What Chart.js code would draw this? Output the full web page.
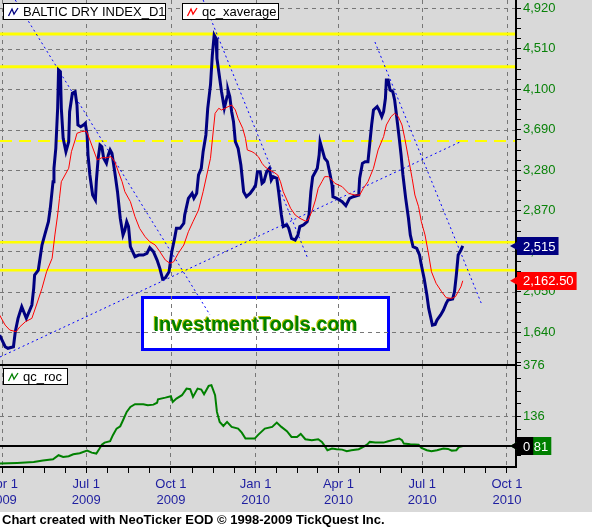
<!DOCTYPE html>
<html><head><meta charset="utf-8">
<script src="https://cdn.jsdelivr.net/npm/chart.js@4.4.1/dist/chart.umd.min.js"></script>
<style>
html,body{margin:0;padding:0;background:#fff;}
#wrap{position:relative;width:592px;height:528px;background:#fff;overflow:hidden}
#panel{position:absolute;left:0;top:0;width:592px;height:512px;background:#D9D9D9}
#c1{position:absolute;left:0;top:0}
#c2{position:absolute;left:0;top:355px}
#foot{position:absolute;left:2px;top:512px;font:bold 13px "Liberation Sans",Arial,sans-serif;color:#000;line-height:16px;white-space:nowrap}
</style></head><body>
<div id="wrap"><div id="panel"></div>
<canvas id="c1" width="592" height="365"></canvas>
<canvas id="c2" width="592" height="157"></canvas>
<div id="foot">Chart created with NeoTicker EOD © 1998-2009 TickQuest Inc.</div>
</div>
<script>
// x values are days counted from 2009-04-01
const quarterDays = [0, 91, 183, 275, 365, 456, 548];
const quarterLabels = [['Apr 1','2009'],['Jul 1','2009'],['Oct 1','2009'],['Jan 1','2010'],['Apr 1','2010'],['Jul 1','2010'],['Oct 1','2010']];
const priceTickLabels = [1640, 2050, 2460, 2870, 3280, 3690, 4100, 4510, 4920];
const rocTickLabels = [136, 376];

const bdiDays = [-3,3,6,12,14,17,21,26,32,34,35,39,43,46,50,52,55,56,58,60,61,63,64,66,69,72,73,76,79,81,82,85,88,90,92,93,95,98,101,102,104,106,108,110,113,115,117,119,122,125,128,131,133,135,137,139,144,148,153,157,160,164,168,171,174,177,180,181,184,187,189,193,197,198,202,206,208,211,213,216,218,221,223,226,228,230,232,233,235,238,241,244,245,247,249,251,253,256,259,262,265,269,273,275,277,280,282,284,287,290,292,294,298,300,303,305,309,311,314,318,321,323,327,331,333,335,337,340,342,344,345,347,350,353,356,358,359,363,369,373,377,381,387,388,391,394,397,399,401,403,407,409,412,414,416,417,419,421,424,426,428,431,433,435,438,441,443,446,450,453,455,458,461,463,465,467,470,472,476,479,482,484,489,491,493,495,498,500];
const bdiClose = [1613,1495,1479,1495,1647,1782,1900,1782,1917,2086,2221,2271,2524,2626,2760,2896,3165,3301,3503,3908,4296,4278,3908,3604,3469,3570,3873,4060,4076,3941,3739,3722,3739,3756,3638,3435,3233,3030,2980,3165,3402,3536,3519,3402,3351,3435,3486,3452,3266,3064,2795,2626,2676,2760,2710,2507,2406,2423,2423,2440,2497,2457,2372,2288,2180,2193,2238,2254,2457,2592,2693,2693,2744,2828,2997,3047,2997,3047,3233,3301,3469,3638,3908,4144,4447,4650,4616,4414,4278,4076,3908,4025,4093,4025,3873,3772,3570,3503,3334,3064,3013,3047,3098,3132,3266,3266,3149,3165,3266,3301,3182,3216,3199,3064,2828,2710,2727,2693,2592,2575,2626,2710,2727,2760,2828,3064,3216,3266,3301,3435,3570,3503,3402,3368,3233,3132,3013,2997,2963,2922,2997,3013,3030,3199,3351,3368,3368,3554,3739,3891,3924,3891,3823,3873,4009,4194,4194,4093,4076,3992,3840,3604,3435,3233,2997,2795,2626,2507,2490,2423,2322,2187,2018,1883,1799,1714,1721,1765,1816,1866,1934,1968,1978,2052,2221,2423,2474,2515];

const avgDays = [-3,3,8,15,19,25,32,37,43,48,54,57,60,62,64,68,72,75,79,81,86,91,93,97,101,103,108,113,118,122,126,130,133,139,144,149,155,160,166,171,177,182,186,191,197,202,207,213,218,222,226,228,231,235,238,242,245,249,253,256,261,264,266,271,274,278,282,285,290,294,299,302,305,309,313,318,323,329,332,336,340,343,347,350,354,358,361,369,376,383,388,392,397,403,408,414,417,422,426,430,434,437,441,445,448,452,455,459,463,466,471,477,482,488,492,495,498,500];
const avgValues = [1815,1714,1664,1647,1697,1748,1782,1917,2086,2254,2390,2626,2828,2997,3165,3233,3301,3469,3587,3655,3672,3678,3638,3536,3435,3385,3408,3408,3418,3368,3266,3165,3064,2963,2811,2693,2608,2558,2524,2457,2372,2339,2355,2440,2524,2659,2760,2878,3064,3233,3402,3587,3857,3908,3891,3908,3924,3941,3891,3806,3705,3604,3486,3469,3452,3418,3351,3317,3283,3266,3233,3165,3064,2980,2896,2828,2795,2767,2778,2862,2980,3098,3165,3216,3216,3182,3149,3115,3047,3030,3030,3098,3165,3301,3486,3621,3739,3823,3857,3823,3739,3604,3402,3199,3030,2912,2760,2626,2423,2254,2137,2052,1991,1984,2001,2052,2102,2162.5];

const rocDays = [-3,16,34,44,55,61,66,72,77,84,92,97,102,105,108,111,117,120,124,128,131,135,139,144,153,158,164,168,169,177,183,185,189,195,200,204,207,212,216,219,224,227,231,233,236,240,244,249,256,260,264,274,278,285,293,298,303,309,314,320,324,329,336,343,347,350,353,358,363,369,374,379,387,392,396,399,405,414,419,426,431,434,436,443,452,455,461,466,472,479,484,488,493,496,500];
const rocValues = [-80.6,-77.5,-72.9,-66.7,-60.5,-41.9,-49.7,-46.6,-37.3,-32.7,-20.4,-29.7,-34.3,-14.1,7.4,16.7,23.2,51.1,81.7,92.8,120.7,159.2,182.5,195,195,190,193,202,218,225.6,232,205.7,221,236.8,267.4,264.6,228.9,267.4,262.8,241.4,280,283,236.8,159.2,112.8,94.2,112.8,89.6,81.7,63.1,35.3,35.3,53.9,81.7,89.6,109.6,89.6,69.6,43.2,43.2,57.1,32.5,27.9,32.5,20,1.4,-18.6,-11.1,-13.9,-15.8,-23.2,-18.6,-13.9,-3.2,7.4,20,16.7,16.7,23.2,30.6,35.3,27.9,12.1,9.3,7.4,-7.9,-18.6,-23.2,-18.6,-11.1,-12.5,-20.4,-18.6,-3.2,0.81];

// horizontal support/resistance levels (solid) and one dashed level
const solidLevels = [4660, 4329, 2552, 2268];
const dashedLevels = [3577];
// trend lines: [startDay, startValue, endDay, endValue]
const trendLines = [[14, 5004, 225.5, 1816], [218, 5004, 331, 2403], [404.6, 4579, 520, 1937], [-2.6, 1391, 497, 3567]];

const X_MIN = -2.6, X_MAX = 557.8;
const FONT = '"Liberation Sans", Arial, sans-serif';
const GRID = '#777777';

function xTicks(){
  const t = [];
  for (let i=0;i<quarterDays.length;i++){
    t.push(quarterDays[i]);
    if (i<quarterDays.length-1){
      const s=(quarterDays[i+1]-quarterDays[i])/4;
      for(let j=1;j<4;j++) t.push(quarterDays[i]+j*s);
    }
  }
  return t.map(v=>({value:v}));
}
function yTicks(majors, minVal){
  const step=(majors[1]-majors[0])/4;
  const t=[];
  for(let v=majors[0]-3*step; v<=majors[majors.length-1]+0.001; v+=step){ if(v>=minVal) t.push({value:v}); }
  return t;
}
const pts=(xs,ys)=>xs.map((d,i)=>({x:d,y:ys[i]}));

function legendBox(ctx,x,y,w,h,color,text){
  ctx.save();
  ctx.fillStyle='#fff'; ctx.fillRect(x,y,w,h);
  ctx.strokeStyle='#000'; ctx.lineWidth=1; ctx.strokeRect(x+0.5,y+0.5,w-1,h-1);
  ctx.strokeStyle=color; ctx.lineWidth=1.3;
  ctx.beginPath(); ctx.moveTo(x+5.5,y+13); ctx.lineTo(x+9,y+6); ctx.lineTo(x+11,y+11); ctx.lineTo(x+15,y+5); ctx.stroke();
  ctx.fillStyle='#000'; ctx.font='13px '+FONT; ctx.textBaseline='middle'; ctx.textAlign='left';
  ctx.fillText(text,x+20,y+h/2+1);
  ctx.restore();
}
function valueTag(ctx,x0,yPix,text,bg,fg){
  ctx.save();
  ctx.font='13px '+FONT;
  const w=ctx.measureText(text).width, h=18;
  ctx.fillStyle=bg;
  ctx.fillRect(x0+1,Math.round(yPix-h/2),w+9,h);
  ctx.beginPath(); ctx.moveTo(x0+1,yPix-4); ctx.lineTo(x0-6,yPix); ctx.lineTo(x0+1,yPix+4); ctx.closePath(); ctx.fill();
  ctx.fillStyle=fg; ctx.textBaseline='middle'; ctx.textAlign='left';
  ctx.fillText(text,x0+7,yPix+1);
  ctx.restore();
}
function hline(ctx,x1,x2,y){ctx.beginPath();ctx.moveTo(x1,y);ctx.lineTo(x2,y);ctx.stroke();}
function vline(ctx,x,y1,y2){ctx.beginPath();ctx.moveTo(x,y1);ctx.lineTo(x,y2);ctx.stroke();}

const xGridColor = c => (c.tick && quarterDays.indexOf(c.tick.value)>=0) ? GRID : 'transparent';

const deco1 = {
  id:'deco1',
  beforeDraw(chart){
    const ctx=chart.ctx;
    ctx.save();
    ctx.fillStyle='#fff'; ctx.fillRect(142,297,247,53);
    ctx.strokeStyle='#0000FF'; ctx.lineWidth=3; ctx.strokeRect(142.5,297.5,246,52);
    ctx.font='bold 20px '+FONT; ctx.textAlign='center'; ctx.textBaseline='alphabetic';
    ctx.fillStyle='#B8C000'; ctx.fillText('InvestmentTools.com',254.5,329.5);
    ctx.fillStyle='#008000'; ctx.fillText('InvestmentTools.com',255.5,330.5);
    ctx.restore();
  },
  beforeDatasetsDraw(chart){
    // dashed grid drawn from the scales
    const ctx=chart.ctx, ca=chart.chartArea, xs=chart.scales.x, ys=chart.scales.y;
    ctx.save();
    ctx.strokeStyle=GRID; ctx.lineWidth=1; ctx.setLineDash([4,4]);
    quarterDays.forEach(d=>{const x=Math.round(xs.getPixelForValue(d))+0.5; vline(ctx,x,ca.top,ca.bottom);});
    priceTickLabels.forEach(v=>{const y=Math.round(ys.getPixelForValue(v))+0.5; hline(ctx,ca.left,ca.right,y);});
    ctx.restore();
  },
  afterDraw(chart){
    const ctx=chart.ctx, ca=chart.chartArea, ys=chart.scales.y;
    ctx.save();
    ctx.strokeStyle='#000'; ctx.lineWidth=2;
    vline(ctx,ca.right,0,ca.bottom);
    ctx.restore();
    legendBox(ctx,3,3,163,17,'#000080','BALTIC DRY INDEX_D1');
    legendBox(ctx,182,3,97,17,'#FF0000','qc_xaverage');
    const lastB=bdiClose[bdiClose.length-1], lastA=avgValues[avgValues.length-1];
    valueTag(ctx,ca.right,ys.getPixelForValue(lastB),lastB.toLocaleString('en-US'),'#000080','#fff');
    valueTag(ctx,ca.right,ys.getPixelForValue(lastA),lastA.toLocaleString('en-US',{minimumFractionDigits:2}),'#FF0000','#fff');
  }
};

const levelSets = solidLevels.map((v,i)=>({data:[{x:X_MIN,y:v},{x:X_MAX,y:v}],borderColor:'#FFFF00',borderWidth:i<2?3:2.5,pointRadius:0}))
  .concat(dashedLevels.map(v=>({data:[{x:X_MIN,y:v},{x:X_MAX,y:v}],borderColor:'#FFFF00',borderWidth:2,borderDash:[12,7],pointRadius:0})));
const trendSets = trendLines.map(t=>({data:[{x:t[0],y:t[1]},{x:t[2],y:t[3]}],borderColor:'#0000FF',borderWidth:1,borderDash:[2,3],pointRadius:0}));

new Chart(document.getElementById('c1'),{
  type:'line',
  data:{datasets:[
    {label:'qc_xaverage',data:pts(avgDays,avgValues),borderColor:'#FF0000',borderWidth:1,pointRadius:0,tension:0},
    {label:'BALTIC DRY INDEX_D1',data:pts(bdiDays,bdiClose),borderColor:'#000080',borderWidth:3,pointRadius:0,tension:0},
    ...trendSets, ...levelSets
  ]},
  options:{
    responsive:false, animation:false, devicePixelRatio:1,
    layout:{padding:0},
    plugins:{legend:{display:false},tooltip:{enabled:false}},
    scales:{
      x:{type:'linear',min:X_MIN,max:X_MAX,
        afterBuildTicks(s){s.ticks=xTicks();},
        afterFit(s){s.height=0;s.paddingLeft=0;s.paddingRight=0;},
        ticks:{display:false,autoSkip:false},
        grid:{color:'transparent',drawTicks:false,lineWidth:1},
        border:{display:false}},
      y:{type:'linear',position:'right',min:1310,max:5004,
        afterBuildTicks(s){s.ticks=yTicks(priceTickLabels,1310);},
        afterFit(s){s.width=76;s.paddingTop=0;s.paddingBottom=0;},
        ticks:{autoSkip:false,padding:2,color:'#0A820A',font:{family:FONT,size:13},
          callback:v=>priceTickLabels.indexOf(v)>=0?v.toLocaleString('en-US'):''},
        grid:{color:'transparent',tickColor:'#000',tickLength:5,lineWidth:1},
        border:{display:false}}
    }
  },
  plugins:[deco1]
});

const deco2 = {
  id:'deco2',
  afterDraw(chart){
    const ctx=chart.ctx, ca=chart.chartArea, ys=chart.scales.y;
    ctx.save();
    ctx.strokeStyle='#000'; ctx.lineWidth=2;
    const y0=Math.round(ys.getPixelForValue(0));
    hline(ctx,0,ca.right,y0);
    hline(ctx,0,ca.right+1,ca.top);
    hline(ctx,0,ca.right+1,ca.bottom);
    vline(ctx,ca.right,ca.top,ca.bottom);
    ctx.restore();
    legendBox(ctx,3,ca.top+3,65,17,'#008000','qc_roc');
    const lastR=rocValues[rocValues.length-1];
    valueTag(ctx,ca.right,ys.getPixelForValue(lastR),lastR.toFixed(2),'#008000','#fff');
    valueTag(ctx,ca.right,y0,'0','#000','#fff');
  }
};

new Chart(document.getElementById('c2'),{
  type:'line',
  data:{datasets:[
    {label:'qc_roc',data:pts(rocDays,rocValues),borderColor:'#008000',borderWidth:2,pointRadius:0,tension:0}
  ]},
  options:{
    responsive:false, animation:false, devicePixelRatio:1,
    layout:{padding:{top:10,left:0,right:0,bottom:0}},
    plugins:{legend:{display:false},tooltip:{enabled:false}},
    scales:{
      x:{type:'linear',min:X_MIN,max:X_MAX,
        afterBuildTicks(s){s.ticks=xTicks();},
        afterFit(s){s.height=45;s.paddingLeft=0;s.paddingRight=0;},
        ticks:{autoSkip:false,maxRotation:0,minRotation:0,padding:3,color:'#1E1EA0',font:{family:FONT,size:13,lineHeight:1.23},
          callback:v=>{const i=quarterDays.indexOf(v);return i>=0?quarterLabels[i]:'';}},
        grid:{color:xGridColor,tickColor:'#000',tickLength:6,lineWidth:1},
        border:{display:false,dash:[4,4]}},
      y:{type:'linear',position:'right',min:-96.5,max:377,
        afterBuildTicks(s){s.ticks=yTicks(rocTickLabels,-96.5);},
        afterFit(s){s.width=76;s.paddingTop=0;s.paddingBottom=0;},
        ticks:{autoSkip:false,padding:2,color:'#0A820A',font:{family:FONT,size:13},
          callback:v=>rocTickLabels.indexOf(v)>=0?String(v):''},
        grid:{color:c=>(c.tick&&c.tick.value===rocTickLabels[0])?GRID:'transparent',tickColor:'#000',tickLength:5,lineWidth:1},
        border:{display:false,dash:[4,4]}}
    }
  },
  plugins:[deco2]
});
</script>
</body></html>
